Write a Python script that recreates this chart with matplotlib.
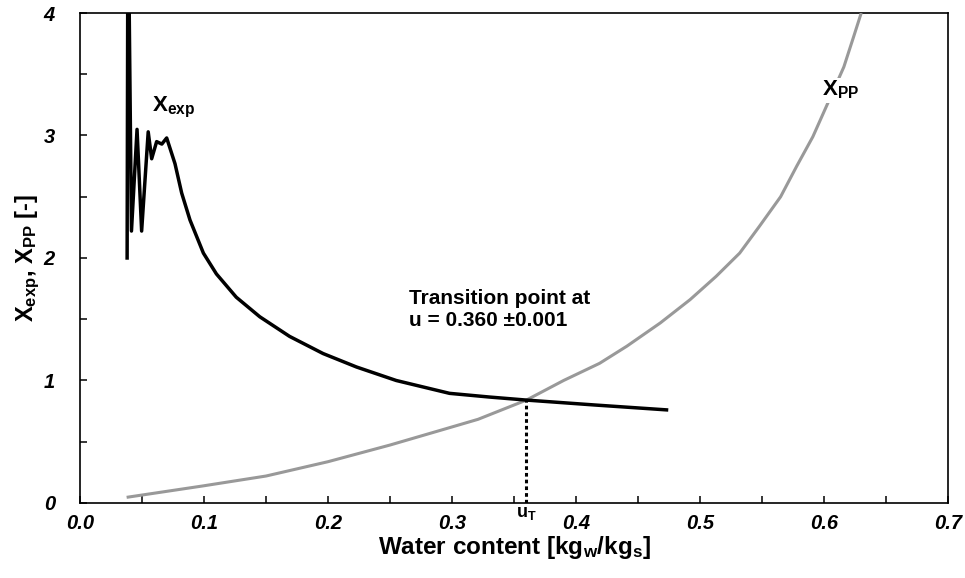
import numpy as np
import matplotlib
matplotlib.use("Agg")
import matplotlib.pyplot as plt
from matplotlib.ticker import MultipleLocator, FormatStrFormatter

plt.rcParams['font.family'] = ['Liberation Sans', 'DejaVu Sans']
plt.rcParams['mathtext.fontset'] = 'custom'
plt.rcParams['mathtext.bf'] = 'Liberation Sans:bold'
plt.rcParams['mathtext.rm'] = 'Liberation Sans:bold'
plt.rcParams['mathtext.default'] = 'bf'

u_exp = [0.0380, 0.0385, 0.0395, 0.0415, 0.0460, 0.0497, 0.0550, 0.0578, 0.0618,
         0.0660, 0.0699, 0.0766, 0.0820, 0.0887, 0.0995, 0.1100, 0.1260, 0.1450,
         0.1690, 0.1960, 0.2230, 0.2550, 0.2980, 0.3300, 0.3600, 0.4150, 0.4730]
x_exp = [2.00, 4.20, 4.20, 2.22, 3.05, 2.22, 3.03, 2.81, 2.95,
         2.93, 2.98, 2.77, 2.53, 2.31, 2.04, 1.87, 1.68, 1.52,
         1.36, 1.22, 1.11, 1.00, 0.895, 0.865, 0.84, 0.80, 0.76]

# model curve X_PP
u_pp = [0.0376, 0.099, 0.150, 0.200, 0.250, 0.293, 0.321, 0.360, 0.390,
        0.419, 0.441, 0.468, 0.492, 0.513, 0.532, 0.548, 0.565, 0.578,
        0.591, 0.602, 0.616, 0.624, 0.630]
x_pp = [0.046, 0.139, 0.220, 0.337, 0.473, 0.600, 0.683, 0.84, 1.00,
        1.14, 1.28, 1.47, 1.66, 1.85, 2.04, 2.26, 2.50, 2.75,
        2.99, 3.24, 3.56, 3.81, 4.00]

u_t = 0.360
x_t = 0.84

fig = plt.figure(figsize=(9.65, 5.78), dpi=100)
ax = fig.add_axes([0.0829, 0.1298, 0.8995, 0.8477])

ax.plot(u_pp, x_pp, color='#999999', lw=2.2, solid_capstyle='butt', zorder=3)
ax.plot(u_exp, x_exp, color='black', lw=2.5, solid_joinstyle='round', zorder=4)
ax.plot([u_t, u_t], [0, x_t], color='black', lw=2.2, ls=(0, (1.2, 1)), zorder=5)

ax.set_xlim(0, 0.7)
ax.set_ylim(0, 4)
ax.xaxis.set_major_locator(MultipleLocator(0.1))
ax.xaxis.set_minor_locator(MultipleLocator(0.05))
ax.yaxis.set_major_locator(MultipleLocator(1))
ax.yaxis.set_minor_locator(MultipleLocator(0.5))
ax.xaxis.set_major_formatter(FormatStrFormatter('%.1f'))
ax.yaxis.set_major_formatter(FormatStrFormatter('%d'))
ax.tick_params(which='both', direction='in', length=5, width=1.1, top=False, right=False)
ax.tick_params(axis='x', pad=8)
ax.tick_params(axis='y', pad=18)
for lab in ax.get_xticklabels() + ax.get_yticklabels():
    lab.set_fontweight('bold')
    lab.set_fontstyle('italic')
    lab.set_fontsize(14.5)
for sp in ax.spines.values():
    sp.set_linewidth(1.2)

ax.set_xlabel(r'Water content [kg$_\mathrm{w}$/kg$_\mathrm{s}$]', fontsize=17.5,
              fontweight='bold', labelpad=1)
ax.set_ylabel(r'X$_\mathrm{exp}$, X$_\mathrm{PP}$ [-]', fontsize=17,
              fontweight='bold')
ax.yaxis.set_label_coords(-0.044, 0.5)

ax.text(0.0755, 3.23, r'X$_\mathrm{exp}$', fontsize=16, fontweight='bold',
        ha='center', va='center', zorder=6)
ax.text(0.6135, 3.37, r'X$_\mathrm{PP}$', fontsize=16, fontweight='bold',
        ha='center', va='center', zorder=6,
        bbox=dict(facecolor='white', edgecolor='none', pad=1))
ax.text(0.265, 1.41, 'Transition point at\nu = 0.360 \u00b10.001', fontsize=15,
        fontweight='bold', ha='left', va='bottom', linespacing=1.25, zorder=6)
ax.text(u_t, -0.02, r'u$_\mathrm{T}$', fontsize=13, fontweight='bold',
        ha='center', va='top', clip_on=False)

fig.savefig('out.png', dpi=100)
